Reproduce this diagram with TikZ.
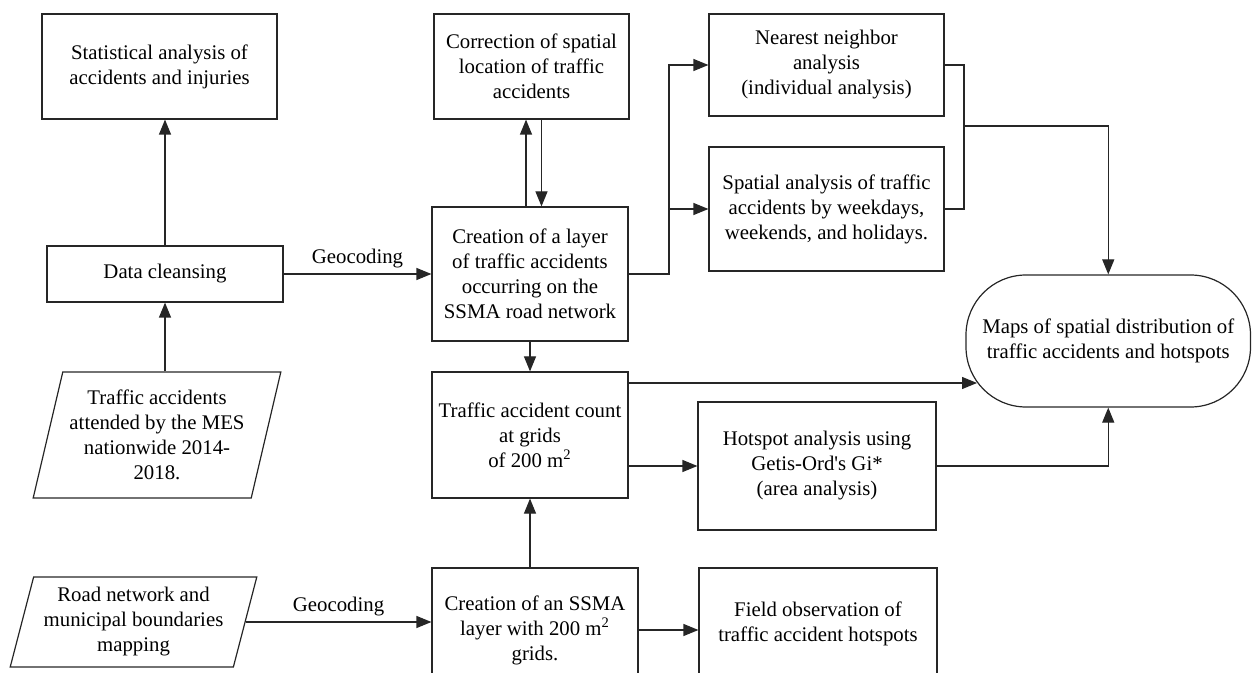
\documentclass[tikz,border=0pt]{standalone}
\usepackage{fontspec}
\setmainfont{Liberation Serif}
\usetikzlibrary{arrows.meta}
\usetikzlibrary{shapes.geometric}

\tikzset{
  box/.style={draw=black!85, line width=0.6pt, rectangle, inner sep=0pt, align=center},
  datain/.style={draw=black!85, line width=0.6pt, trapezium, trapezium left angle=73,
    trapezium right angle=107, trapezium stretches=true, inner sep=0pt, align=center},
  flow/.style={->, line width=0.6pt, draw=black!85},
  link/.style={line width=0.6pt, draw=black!85},
}
\newcommand{\straightquote}{{\XeTeXglyph\XeTeXcharglyph"27\relax}}

\begin{document}
\begin{tikzpicture}[x=0.5pt,y=-0.5pt,>={Triangle[length=7.5pt,width=6pt]},
    every node/.style={font=\fontsize{10.4}{12.5}\selectfont}]
  \useasboundingbox (0,0) rectangle (1252,673);
  \clip (0,0) rectangle (1252,673);

  \node[box, minimum width=117.5pt, minimum height=52.5pt] (stat)    at (159.5,66.5) {Statistical analysis of\\accidents and injuries};
  \node[box, minimum width=118pt,   minimum height=28pt]   (clean)   at (165,274)    {Data cleansing};
  \node[datain, minimum width=124pt, minimum height=63pt]  (trav)    at (157,435)    {Traffic accidents\\attended by the MES\\nationwide 2014-\\2018.};
  \node[datain, minimum width=123.5pt, minimum height=45pt] (road)   at (133.5,622)  {Road network and\\municipal boundaries\\mapping};
  \node[box, minimum width=97.5pt,  minimum height=52.5pt] (corr)    at (531.5,66.5) {Correction of spatial\\location of traffic\\accidents};
  \node[box, minimum width=98pt,    minimum height=67pt]   (layer)   at (530,274)    {Creation of a layer\\of traffic accidents\\occurring on the\\SSMA road network};
  \node[box, minimum width=98pt,    minimum height=63pt]   (count)   at (530,435)    {Traffic accident count\\at grids\\of 200 m\textsuperscript{2}};
  \node[box, minimum width=103pt,   minimum height=62pt]   (ssma)    at (535,630)    {Creation of an SSMA\\layer with 200 m\textsuperscript{2}\\grids.};
  \node[box, minimum width=117.5pt, minimum height=51pt]   (nearest) at (826.5,65)   {Nearest neighbor\\analysis\\(individual analysis)};
  \node[box, minimum width=117.5pt, minimum height=62pt]   (spatial) at (826.5,209)  {Spatial analysis of traffic\\accidents by weekdays,\\weekends, and holidays.};
  \node[box, minimum width=119pt,   minimum height=64pt]   (hotspot) at (817,466)    {Hotspot analysis using\\Getis-Ord\straightquote s Gi*\\(area analysis)};
  \node[box, minimum width=119pt,   minimum height=56pt]   (field)   at (818,624)    {Field observation of\\traffic accident hotspots};
  \node[box, rounded corners=30pt, minimum width=142.25pt, minimum height=66pt] (maps) at (1108.25,341) {Maps of spatial distribution of\\traffic accidents and hotspots};

  \coordinate (j1) at (669,274);
  \coordinate (j2) at (964,126);
  \coordinate (j3) at (977,383);

  \draw[flow] (clean.north) -- (clean.north |- stat.south);
  \draw[flow] (trav.north -| clean) -- (clean);
  \draw[flow] (clean) -- (layer) node[above, midway, inner sep=2.5pt] {Geocoding};
  \draw[flow] ([xshift=-2pt]layer.north) -- ([xshift=-2pt]layer.north |- corr.south);
  \draw[flow] ([xshift=5pt]corr.south) -- ([xshift=5pt]corr.south |- layer.north);
  \draw[flow] (layer.east) -- (j1) |- (nearest.west);
  \draw[flow] (j1 |- spatial.west) -- (spatial.west);
  \draw[link] (nearest.east) -- (nearest.east -| j2) -- (spatial.east -| j2) -- (spatial.east);
  \draw[flow] (j2) -| (maps.north);
  \draw[flow] (layer) -- (count);
  \draw[flow] (count.east |- j3) -- (j3);
  \draw[flow] (count.east |- hotspot.west) -- (hotspot.west);
  \draw[flow] (hotspot.east) -| (maps.south);
  \draw[flow] (count.south |- ssma.north) -- (count.south);
  \draw[flow] (ssma.east) -- (ssma.east -| field.west);
  \draw[flow] (road.east) -- (road.east -| ssma.west) node[above, midway, inner sep=2.5pt] {Geocoding};
\end{tikzpicture}
\end{document}
